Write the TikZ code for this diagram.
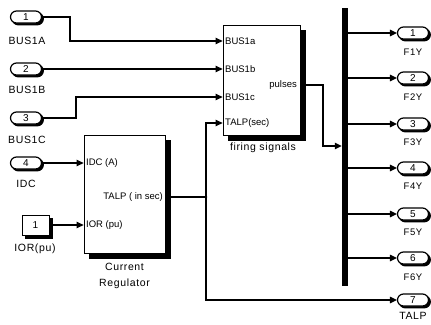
\documentclass[tikz,border=0pt]{standalone}
\usepackage{fontspec}
\setmainfont{Liberation Sans}
\newfontfamily\lblfont[LetterSpace=6]{Liberation Sans}
\usetikzlibrary{arrows.meta,shadows}
\tikzset{
  port/.style={draw, line width=1.2pt, rounded corners=6pt, minimum width=31pt, minimum height=12pt, inner sep=0pt, fill=white, font=\fontsize{10}{10}\selectfont,
    copy shadow={shadow xshift=1.8pt, shadow yshift=-1.8pt, fill=black, draw=black}},
  blkbase/.style={draw, line width=0.8pt, fill=white, inner sep=0pt},
  blk/.style={blkbase, copy shadow={shadow xshift=5pt, shadow yshift=-5pt, fill=black, draw=black}},
  cblk/.style={blkbase, copy shadow={shadow xshift=3pt, shadow yshift=-3pt, fill=black, draw=black}},
  lbl/.style={font=\lblfont\fontsize{10.5}{11}\selectfont, inner sep=0pt},
  flbl/.style={font=\lblfont\fontsize{9.5}{10}\selectfont, inner sep=0pt},
  ilbl/.style={font=\fontsize{9.5}{10}\selectfont, inner sep=0pt},
  wire/.style={line width=1.2pt, -{Triangle[length=7pt,width=6.5pt]}},
  plain/.style={line width=1.2pt}
}
\begin{document}
\begin{tikzpicture}[x=1pt,y=-1pt]
\useasboundingbox (0,0) rectangle (431,324);
% inports
\node[port] (in1) at (26,17) {1};
\node[lbl] (l1) at (27,41) {BUS1A};
\node[port] (in2) at (26,69) {2};
\node[lbl] (l2) at (27,90) {BUS1B};
\node[port] (in3) at (26,118) {3};
\node[lbl] (l3) at (27,140) {BUS1C};
\node[port] (in4) at (26,163) {4};
\node[lbl] (l4) at (26,184) {IDC};
% constant
\node[cblk, minimum width=27pt, minimum height=20pt, font=\fontsize{10}{10}\selectfont] (k) at (35.5,225) {1};
\node[lbl] (lk) at (35,249) {IOR(pu)};
% current regulator
\node[blk, minimum width=81pt, minimum height=118pt] (cr) at (124.5,194) {};
\node[ilbl, anchor=west] (cra) at (86,163) {IDC (A)};
\node[ilbl, anchor=east] (crb) at (163,197) {TALP ( in sec)};
\node[ilbl, anchor=west] (crc) at (86,225) {IOR (pu)};
\node[lbl] (crl1) at (124.5,267) {Current};
\node[lbl] (crl2) at (124.5,284) {Regulator};
% firing signals
\node[blk, minimum width=77pt, minimum height=110pt] (fs) at (261.5,80) {};
\node[ilbl, anchor=west] (fsa) at (225,41) {BUS1a};
\node[ilbl, anchor=west] (fsb) at (225,69) {BUS1b};
\node[ilbl, anchor=west] (fsc) at (225,97) {BUS1c};
\node[ilbl, anchor=west] (fsd) at (225,123) {TALP(sec)};
\node[ilbl, anchor=east] (fse) at (297,85) {pulses};
\node[lbl] (fsl) at (263,148) {firing signals};
% bus bar
\node[draw, fill=black, minimum width=5pt, minimum height=277pt, inner sep=0pt] (bar) at (344.5,146.5) {};
% outports
\foreach \i/\yy/\ly/\nm in {1/33/52/F1Y,2/78/97/F2Y,3/124/142/F3Y,4/168/186/F4Y,5/214/232/F5Y,6/258/277/F6Y}{
  \node[port] (out\i) at (413,\yy) {\i};
  \node[flbl] (ol\i) at (413,\ly) {\nm};
  \draw[wire] (bar.east |- out\i.west) -- (out\i.west);
}
\node[port] (out7) at (413,300) {7};
\node[lbl] (ol7) at (413,316) {TALP};
% connectors
\coordinate (j) at (206,197);
\draw[wire] (in1.east) -- (70,17) -- (70,41) -- (fs.west |- fsa);
\draw[wire] (in2.east) -- (fs.west |- fsb);
\draw[wire] (in3.east) -- (76,118) -- (76,97) -- (fs.west |- fsc);
\draw[wire] (in4.east) -- (cr.west |- cra);
\draw[wire] ([xshift=3pt]k.east |- crc) -- (cr.west |- crc);
\draw[plain] ([xshift=6pt]cr.east |- crb) -- (j);
\draw[wire] (j) -- (206,123) -- (fs.west |- fsd);
\draw[wire] (j) -- (206,300) -- (out7.west);
\fill (j) circle (1.3pt);
\draw[wire] ([xshift=6pt]fs.east |- fse) -- (323,85) -- (323,146) -- (bar.west |- 0,146);
\end{tikzpicture}
\end{document}
